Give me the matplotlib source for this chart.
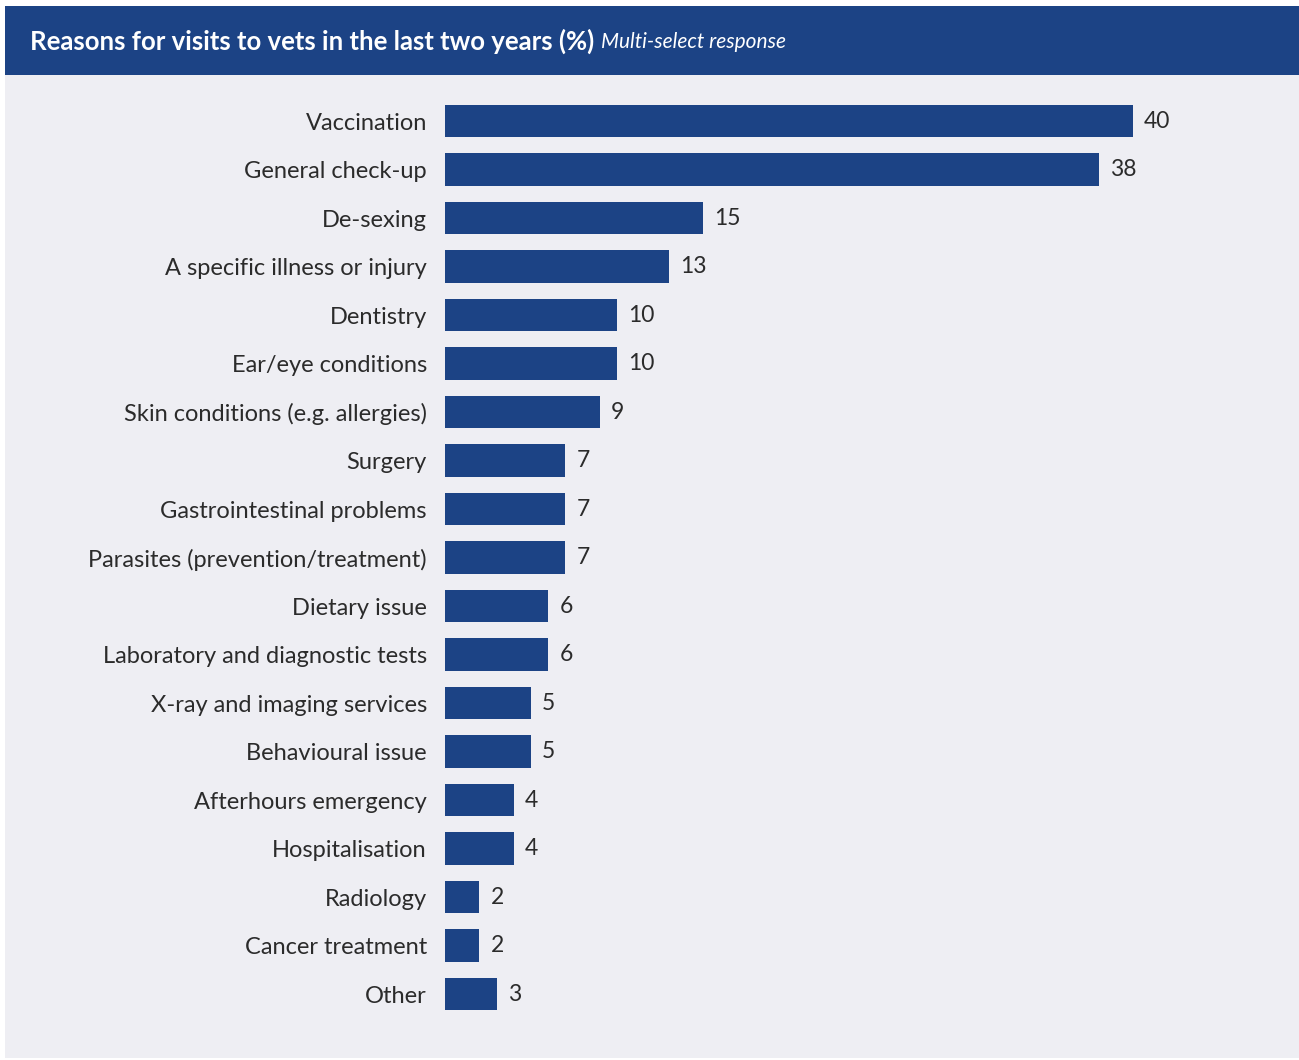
import matplotlib
matplotlib.use("Agg")
import matplotlib.pyplot as plt
from matplotlib.patches import Rectangle

categories = [
    "Vaccination", "General check-up", "De-sexing", "A specific illness or injury",
    "Dentistry", "Ear/eye conditions", "Skin conditions (e.g. allergies)", "Surgery",
    "Gastrointestinal problems", "Parasites (prevention/treatment)", "Dietary issue",
    "Laboratory and diagnostic tests", "X-ray and imaging services", "Behavioural issue",
    "Afterhours emergency", "Hospitalisation", "Radiology", "Cancer treatment", "Other",
]
values = [40, 38, 15, 13, 10, 10, 9, 7, 7, 7, 6, 6, 5, 5, 4, 4, 2, 2, 3]

title = "Reasons for visits to vets in the last two years (%)"
subtitle = "Multi-select response"

NAVY = "#1c4385"
PANEL = "#eeeef3"
TEXT = "#2b2b2b"

W, H = 1299, 1060
fig = plt.figure(figsize=(W / 100, H / 100), dpi=100)
fig.patch.set_facecolor("white")

# background panel and header band
fig.patches.append(Rectangle((5 / W, 2 / H), 1294 / W, (H - 77) / H,
                             transform=fig.transFigure, facecolor=PANEL, edgecolor="none", zorder=-2))
fig.patches.append(Rectangle((5 / W, (H - 75) / H), 1294 / W, 69 / H,
                             transform=fig.transFigure, facecolor=NAVY, edgecolor="none", zorder=-2))

t = fig.text(30 / W, 1 - 41 / H, title, color="white", fontsize=18.5, fontweight="bold",
             family="Lato", va="center", ha="left")
fig.canvas.draw()
bb = t.get_window_extent()
fig.text((bb.x1 + 7) / W, 1 - 42 / H, subtitle, color="white", fontsize=15, style="italic",
         family="Lato", va="center", ha="left")

# plotting area
x0, px_per_unit = 445, 17.2
y_top, y_bot = 96.75, 1018.25
ax = fig.add_axes([x0 / W, 1 - y_bot / H, (W - x0) / W, (y_bot - y_top) / H], zorder=2)
ax.set_facecolor("none")
n = len(categories)
ax.set_xlim(0, (W - x0) / px_per_unit)
ax.set_ylim(n - 0.5, -0.5)
pos = list(range(n))
ax.barh(pos, values, height=0.66, color=NAVY, zorder=2)
for p, v in zip(pos, values):
    ax.annotate(f"{v}", (v, p), xytext=(8, 0), textcoords="offset points",
                va="center", ha="left", fontsize=16.5, family="Lato", color=TEXT)
ax.set_yticks(pos)
ax.set_yticklabels(categories, fontsize=17, family="Lato", color=TEXT)
ax.tick_params(axis="y", length=0, pad=13)
for lbl in ax.get_yticklabels():
    lbl.set_va("center_baseline")
ax.set_xticks([])
for s in ax.spines.values():
    s.set_visible(False)

fig.savefig("out.png", dpi=100, facecolor="white")
